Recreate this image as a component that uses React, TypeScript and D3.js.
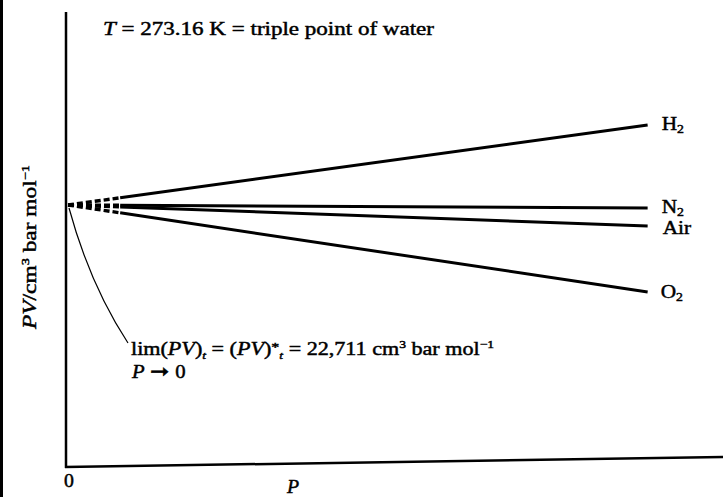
import React from "react";
import * as d3 from "d3";

// PV isotherms at T = 273.16 K, plotted against pressure (arbitrary units)
const gases = ["H", "N", "Air", "O"];
const gasSubscripts = ["2", "2", "", "2"];
const gasKeys = ["H2", "N2", "Air", "O2"];
const pressures = [0, 1.0];
// PV / cm^3 bar mol^-1 at P = 0 and at the highest pressure shown
const pvH2 = [22711, 23031];
const pvN2 = [22711, 22699];
const pvAir = [22711, 22627];
const pvO2 = [22711, 22363];
const seriesValues = [pvH2, pvN2, pvAir, pvO2];
const limitValue = 22711;
const extrapolatedUpTo = 0.09;

const W = 723;
const H = 497;
const FONT = "'Liberation Serif', 'Times New Roman', serif";
const SX = 1.27; // horizontal stretch of the typeset labels

function Stretch({
  x,
  y,
  rotate = 0,
  sx = SX,
  anchor = "start",
  size = 18,
  children,
}: {
  x: number;
  y: number;
  rotate?: number;
  sx?: number;
  anchor?: string;
  size?: number;
  children: React.ReactNode;
}) {
  return (
    <g transform={`translate(${x},${y}) rotate(${rotate}) scale(${sx},1)`}>
      <text
        x={0}
        y={0}
        fontSize={size}
        textAnchor={anchor}
        stroke="#000"
        strokeWidth={0.45}
        fill="#000"
      >
        {children}
      </text>
    </g>
  );
}

export default function App() {
  const x = d3.scaleLinear().domain([0, 1.13]).range([68, 723]);
  const y = d3.scaleLinear().domain([21663, 23483]).range([467, 12]);

  const line = d3
    .line<[number, number]>()
    .x((d) => x(d[0]))
    .y((d) => y(d[1]));

  const interp = (vals: number[], p: number) =>
    vals[0] + ((vals[1] - vals[0]) * (p - pressures[0])) / (pressures[1] - pressures[0]);

  const labelDy = [5, 5, 8, 6];
  const labelDx = [14, 14, 15, 13];

  const y0 = y(limitValue);
  const leader = d3.path();
  leader.moveTo(x(0) + 1, y0 + 3);
  leader.quadraticCurveTo(x(0) + 22, y0 + 80, x(0) + 60, y0 + 138);

  return (
    <svg
      width={W}
      height={H}
      style={{ position: "absolute", left: 0, top: 0, background: "#fff" }}
      fontFamily={FONT}
    >
      <rect x={0} y={0} width={W} height={H} fill="#fff" />
      {/* page edge */}
      <line x1={1.5} y1={0} x2={1.5} y2={H} stroke="#000" strokeWidth={3} />

      {/* axes */}
      <line x1={66} y1={12} x2={66} y2={468} stroke="#000" strokeWidth={2.5} />
      <line x1={65} y1={467} x2={723} y2={457} stroke="#000" strokeWidth={2.5} />

      {/* isotherm lines: dashed extrapolation near P = 0, solid beyond */}
      {seriesValues.map((vals, i) => {
        const pe = extrapolatedUpTo;
        const dashed: [number, number][] = [
          [0, vals[0]],
          [pe, interp(vals, pe)],
        ];
        const solid: [number, number][] = [
          [pe, interp(vals, pe)],
          [pressures[1], vals[1]],
        ];
        return (
          <g key={gasKeys[i]}>
            <path d={line(dashed) ?? ""} fill="none" stroke="#000" strokeWidth={3.4} strokeDasharray="6 3" />
            <path d={line(solid) ?? ""} fill="none" stroke="#000" strokeWidth={3} />
          </g>
        );
      })}

      {/* series labels */}
      {seriesValues.map((vals, i) => (
        <Stretch
          key={gasKeys[i]}
          x={x(pressures[1]) + labelDx[i]}
          y={y(vals[1]) + labelDy[i]}
          sx={1.15}
          size={18.5}
        >
          {gases[i]}
          {gasSubscripts[i] && (
            <tspan fontSize={12} dy={3}>
              {gasSubscripts[i]}
            </tspan>
          )}
        </Stretch>
      ))}

      {/* leader to the intercept */}
      <path d={leader.toString()} fill="none" stroke="#000" strokeWidth={1.2} />

      {/* annotations */}
      <Stretch x={103} y={35} sx={1.28}>
        <tspan fontStyle="italic">T</tspan>
        {" = 273.16 K = triple point of water"}
      </Stretch>

      <Stretch x={131} y={355} sx={1.23}>
        lim(
        <tspan fontStyle="italic">PV</tspan>)
        <tspan fontStyle="italic" fontSize={11} dy={4}>t</tspan>
        <tspan dy={-4}> = (</tspan>
        <tspan fontStyle="italic">PV</tspan>)
        <tspan fontSize={13} dy={-4}>*</tspan>
        <tspan fontStyle="italic" fontSize={11} dy={8}>t</tspan>
        <tspan dy={-4}>{" = 22,711 cm"}</tspan>
        <tspan fontSize={11} dy={-7}>3</tspan>
        <tspan dy={7}>{" bar mol"}</tspan>
        <tspan fontSize={11} dy={-7}>{"\u22121"}</tspan>
      </Stretch>
      <Stretch x={132} y={378} sx={1.15}>
        <tspan fontStyle="italic">P</tspan>
        <tspan fontSize={20}>{" \u279E "}</tspan>
        {"0"}
      </Stretch>

      {/* axis labels */}
      <Stretch x={69} y={487} anchor="middle" sx={1.1}>
        0
      </Stretch>
      <Stretch x={287} y={493} sx={1.1}>
        <tspan fontStyle="italic">P</tspan>
      </Stretch>
      <Stretch x={36} y={247} rotate={-90} anchor="middle" sx={1.3}>
        <tspan fontStyle="italic">PV</tspan>
        {"/cm"}
        <tspan fontSize={11} dy={-7}>3</tspan>
        <tspan dy={7}>{" bar mol"}</tspan>
        <tspan fontSize={11} dy={-7}>{"\u22121"}</tspan>
      </Stretch>
    </svg>
  );
}
